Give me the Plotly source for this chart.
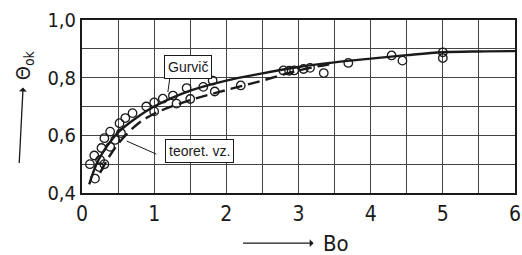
import plotly.graph_objects as go

# Measured points (Bo, Theta_ok)
pts_bo = [0.11, 0.17, 0.18, 0.24, 0.25, 0.27, 0.31, 0.31, 0.39, 0.39, 0.46, 0.52, 0.54,
          0.60, 0.70, 0.89, 1.00, 1.00, 1.12, 1.26, 1.31, 1.45, 1.50, 1.68, 1.81, 1.84,
          2.20, 2.79, 2.87, 2.94, 3.07, 3.16, 3.35, 3.69, 4.29, 4.44, 5.00, 5.00]
pts_theta = [0.50, 0.53, 0.45, 0.49, 0.515, 0.556, 0.59, 0.50, 0.56, 0.613, 0.584, 0.642, 0.608,
             0.66, 0.677, 0.70, 0.714, 0.683, 0.727, 0.738, 0.71, 0.764, 0.726, 0.768, 0.79, 0.752,
             0.773, 0.825, 0.824, 0.825, 0.83, 0.834, 0.816, 0.851, 0.877, 0.859, 0.888, 0.868]

# Gurvič curve (solid)
gur_bo = [0.1, 0.2, 0.3, 0.4, 0.5, 0.75, 1.0, 1.5, 2.0, 2.5, 3.0, 3.5, 4.0, 4.5, 5.0, 5.5, 6.0]
gur_theta = [0.43, 0.50, 0.545, 0.58, 0.61, 0.66, 0.70, 0.755, 0.79, 0.815, 0.837, 0.853,
             0.866, 0.878, 0.888, 0.891, 0.892]

# theoretical relation (dashed)
teo_bo = [0.25, 0.35, 0.5, 0.75, 1.0, 1.5, 2.0, 2.5, 3.0, 3.5]
teo_theta = [0.47, 0.515, 0.57, 0.635, 0.675, 0.722, 0.757, 0.79, 0.825, 0.85]

x_ticks = [0, 1, 2, 3, 4, 5, 6]
y_ticks = [0.4, 0.6, 0.8, 1.0]
y_ticktext = ["0,4", "0,6", "0,8", "1,0"]

FONT = "Liberation Sans Narrow, DejaVu Sans Condensed, Arial Narrow, sans-serif"
INK = "#1a1a1a"

fig = go.Figure()
fig.add_trace(go.Scatter(x=gur_bo, y=gur_theta, mode="lines", line=dict(color=INK, width=2.4, shape="spline"),
                         showlegend=False, hoverinfo="skip"))
fig.add_trace(go.Scatter(x=teo_bo, y=teo_theta, mode="lines",
                         line=dict(color=INK, width=2.4, dash="12px,6px", shape="spline"),
                         showlegend=False, hoverinfo="skip"))
fig.add_trace(go.Scatter(x=pts_bo, y=pts_theta, mode="markers",
                         marker=dict(symbol="circle-open", size=8.5, color=INK, line=dict(width=1.3)),
                         showlegend=False, hoverinfo="skip"))

# leader lines
fig.add_shape(type="line", x0=1.22, y0=0.805, x1=1.19, y1=0.75, line=dict(color=INK, width=1))
fig.add_shape(type="line", x0=1.03, y0=0.535, x1=0.62, y1=0.58, line=dict(color=INK, width=1))

fig.add_annotation(x=1.468, y=0.837, text="Gurvič", showarrow=False,
                   font=dict(family="Arial, Liberation Sans, sans-serif", size=14, color=INK),
                   bgcolor="white", bordercolor=INK, borderwidth=1, borderpad=3)
fig.add_annotation(x=1.63, y=0.544, text="teoret. vz.", showarrow=False,
                   font=dict(family="Arial, Liberation Sans, sans-serif", size=14, color=INK),
                   bgcolor="white", bordercolor=INK, borderwidth=1, borderpad=3)

# axis titles with arrows (plot area: 433 x 173 px)
fig.add_annotation(xref="paper", yref="paper", x=-0.145, y=0.173, ax=5, ay=-98,
                   text="Θ<sub>ok</sub>", textangle=-90,
                   font=dict(family=FONT, size=20, color=INK),
                   showarrow=True, arrowside="start", arrowhead=2, arrowsize=1.2, arrowwidth=1.3,
                   arrowcolor=INK, startstandoff=6)
fig.add_annotation(xref="paper", yref="paper", x=0.372, y=-0.29, ax=93, ay=0,
                   text="Bo", font=dict(family=FONT, size=22, color=INK),
                   showarrow=True, arrowside="start", arrowhead=2, arrowsize=1.2, arrowwidth=1.3,
                   arrowcolor=INK, startstandoff=8)

fig.update_xaxes(range=[0, 6], tickvals=x_ticks, ticks="", showgrid=True, gridcolor="#444", gridwidth=1,
                 minor=dict(dtick=0.5, showgrid=True, gridcolor="#444", gridwidth=1),
                 showline=True, mirror=True, linecolor=INK, linewidth=2, zeroline=False,
                 tickfont=dict(family=FONT, size=21, color=INK), ticklabelstandoff=1, automargin=False)
fig.update_yaxes(range=[0.4, 1.0], tickvals=y_ticks, ticktext=y_ticktext, ticks="", showgrid=True,
                 gridcolor="#444", gridwidth=1,
                 minor=dict(dtick=0.1, showgrid=True, gridcolor="#444", gridwidth=1),
                 showline=True, mirror=True, linecolor=INK, linewidth=2, zeroline=False,
                 tickfont=dict(family=FONT, size=20, color=INK), ticklabelstandoff=0, automargin=False)

fig.update_layout(width=522, height=255, margin=dict(l=82, r=7, t=20, b=62),
                  plot_bgcolor="white", paper_bgcolor="white")

fig.write_html("out.html", config={"displayModeBar": False, "staticPlot": True},
               post_script="document.body.style.margin='0';document.body.style.overflow='hidden';")
